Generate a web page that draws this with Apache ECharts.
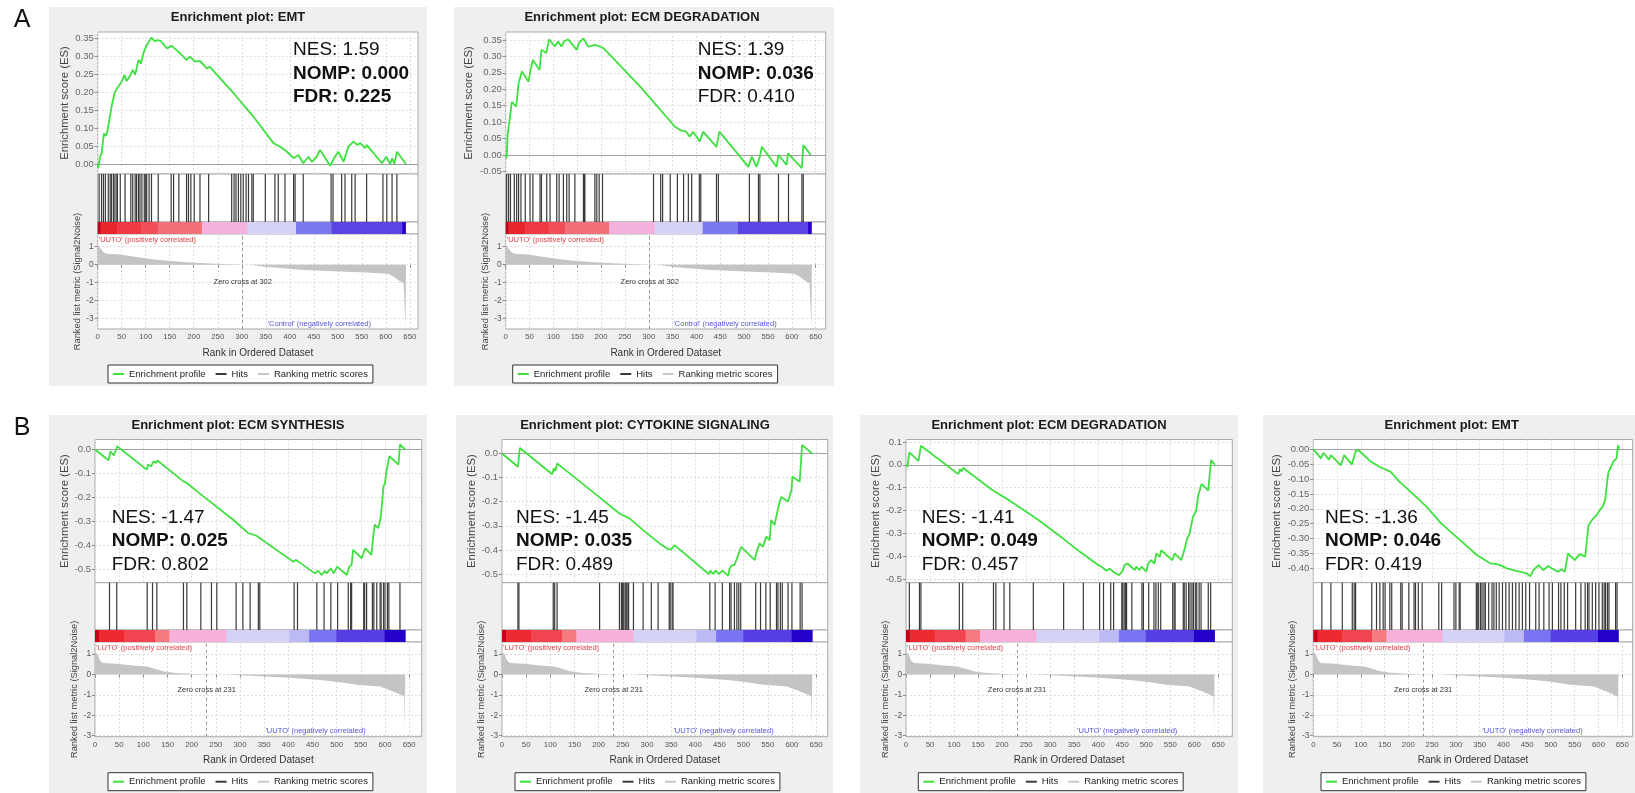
<!DOCTYPE html>
<html>
<head>
<meta charset="utf-8">
<script src="https://cdn.jsdelivr.net/npm/echarts@6/dist/echarts.min.js"></script>
<style>
  html, body { margin: 0; padding: 0; background: #fff; }
  #chart { width: 1635px; height: 793px; }
</style>
</head>
<body>
<div id="chart"></div>
<script>
const FONT = '"Liberation Sans", Arial, Helvetica, sans-serif';

// ---- tick labels ----
const rankTicks = [0, 50, 100, 150, 200, 250, 300, 350, 400, 450, 500, 550, 600, 650];
const metricTicks = [1, 0, -1, -2, -3];
const esTicksA1 = [0, 0.05, 0.1, 0.15, 0.2, 0.25, 0.3, 0.35];
const esTicksA2 = [-0.05, 0, 0.05, 0.1, 0.15, 0.2, 0.25, 0.3, 0.35];
const esTicksB = [0, -0.1, -0.2, -0.3, -0.4, -0.5];
const esTicksB3 = [0.1, 0, -0.1, -0.2, -0.3, -0.4, -0.5];
const esTicksB4 = [0, -0.05, -0.1, -0.15, -0.2, -0.25, -0.3, -0.35, -0.4];

// ---- titles and statistics ----
const titles = [
  "Enrichment plot: EMT",
  "Enrichment plot: ECM DEGRADATION",
  "Enrichment plot: ECM SYNTHESIS",
  "Enrichment plot: CYTOKINE SIGNALING",
  "Enrichment plot: ECM DEGRADATION",
  "Enrichment plot: EMT"
];
const nesValues = ["1.59", "1.39", "-1.47", "-1.45", "-1.41", "-1.36"];
const nompValues = ["0.000", "0.036", "0.025", "0.035", "0.049", "0.046"];
const fdrValues = ["0.225", "0.410", "0.802", "0.489", "0.457", "0.419"];
const zeroCrossA = 302;
const zeroCrossB = 231;

// ---- running enrichment scores [rank, ES] ----
const esEmtA = [[0,0],[1,-0.012],[5,0.02],[8,0.03],[13,0.085],[17,0.078],[20,0.09],[26,0.136],[29,0.16],[35,0.197],[40,0.21],[44,0.217],[50,0.23],[56,0.248],[60,0.23],[67,0.245],[73,0.262],[78,0.248],[85,0.29],[90,0.28],[95,0.308],[102,0.331],[112,0.352],[119,0.341],[124,0.345],[131,0.343],[144,0.322],[154,0.329],[168,0.313],[185,0.29],[192,0.299],[203,0.285],[213,0.287],[227,0.266],[233,0.271],[283,0.197],[324,0.132],[366,0.058],[380,0.048],[394,0.034],[408,0.016],[418,0.025],[428,0.002],[439,0.02],[446,0.006],[456,0.02],[463,0.039],[484,-0.005],[494,0.02],[501,0.034],[512,0.006],[522,0.048],[533,0.062],[540,0.053],[547,0.058],[557,0.044],[560,0.053],[592,0.002],[601,0.02],[609,0],[613,0.016],[618,0],[623,0.034],[642,0]];
const esEcmDegA = [[0,0],[2,-0.01],[4,0.061],[8,0.056],[13,0.162],[22,0.147],[27,0.218],[30,0.223],[34,0.254],[48,0.223],[52,0.259],[57,0.289],[71,0.259],[75,0.32],[85,0.31],[91,0.352],[103,0.33],[110,0.345],[117,0.33],[122,0.345],[131,0.352],[149,0.32],[154,0.342],[163,0.355],[173,0.33],[180,0.332],[187,0.335],[198,0.33],[205,0.325],[282,0.208],[355,0.086],[366,0.076],[378,0.071],[386,0.056],[393,0.071],[407,0.041],[414,0.071],[442,0.025],[448,0.071],[509,-0.036],[516,-0.005],[526,-0.036],[533,-0.005],[537,0.025],[568,-0.036],[572,0],[589,-0.03],[592,0.005],[621,-0.04],[624,0.03],[640,0]];
const esEcmSynB = [[0,0],[28,-0.045],[32,-0.007],[39,-0.025],[46,0.014],[107,-0.084],[110,-0.063],[116,-0.07],[121,-0.049],[126,-0.056],[129,-0.046],[183,-0.133],[190,-0.14],[217,-0.184],[286,-0.293],[317,-0.349],[334,-0.36],[410,-0.468],[416,-0.461],[421,-0.468],[455,-0.517],[462,-0.506],[469,-0.524],[476,-0.506],[479,-0.517],[488,-0.496],[494,-0.517],[501,-0.489],[521,-0.524],[526,-0.489],[531,-0.482],[534,-0.419],[552,-0.454],[559,-0.412],[572,-0.44],[576,-0.356],[579,-0.314],[586,-0.328],[591,-0.286],[593,-0.244],[597,-0.154],[600,-0.14],[603,-0.091],[609,-0.028],[628,-0.063],[631,0.021],[642,0]];
const esCytoB = [[0,0],[33,-0.055],[37,0.023],[104,-0.086],[107,-0.062],[111,-0.072],[114,-0.041],[202,-0.182],[243,-0.249],[264,-0.269],[292,-0.318],[326,-0.373],[345,-0.398],[350,-0.398],[357,-0.38],[428,-0.5],[431,-0.486],[437,-0.5],[442,-0.486],[449,-0.5],[456,-0.486],[468,-0.508],[471,-0.477],[476,-0.463],[481,-0.463],[485,-0.442],[488,-0.435],[495,-0.387],[523,-0.442],[526,-0.414],[530,-0.407],[533,-0.373],[540,-0.387],[547,-0.345],[554,-0.359],[557,-0.276],[564,-0.297],[569,-0.249],[573,-0.214],[578,-0.18],[592,-0.2],[599,-0.152],[601,-0.097],[616,-0.117],[621,0.035],[642,0]];
const esEcmDegB = [[0,0],[3,-0.009],[7,0.054],[26,0.017],[31,0.083],[109,-0.041],[112,-0.019],[116,-0.029],[119,-0.014],[181,-0.113],[216,-0.157],[272,-0.236],[327,-0.323],[362,-0.381],[400,-0.439],[407,-0.446],[417,-0.464],[424,-0.454],[431,-0.468],[443,-0.483],[450,-0.468],[455,-0.439],[461,-0.432],[476,-0.461],[479,-0.446],[486,-0.461],[490,-0.446],[500,-0.468],[504,-0.432],[510,-0.417],[517,-0.432],[521,-0.388],[528,-0.403],[531,-0.374],[554,-0.417],[559,-0.388],[573,-0.417],[580,-0.367],[585,-0.323],[590,-0.301],[594,-0.294],[597,-0.229],[604,-0.2],[608,-0.135],[615,-0.084],[629,-0.113],[632,-0.041],[635,0.02],[643,0]];
const esEmtB = [[0,0],[16,-0.031],[21,-0.012],[33,-0.035],[37,-0.02],[58,-0.054],[65,-0.02],[81,-0.051],[90,-0.003],[97,-0.006],[121,-0.042],[128,-0.048],[139,-0.059],[163,-0.076],[181,-0.109],[209,-0.149],[238,-0.193],[269,-0.249],[301,-0.294],[344,-0.355],[372,-0.383],[383,-0.385],[393,-0.389],[407,-0.4],[421,-0.406],[449,-0.417],[457,-0.426],[463,-0.406],[474,-0.389],[484,-0.406],[494,-0.392],[505,-0.403],[515,-0.411],[522,-0.403],[529,-0.411],[536,-0.35],[550,-0.372],[561,-0.352],[572,-0.361],[579,-0.255],[589,-0.232],[596,-0.221],[603,-0.204],[609,-0.193],[614,-0.171],[617,-0.126],[621,-0.076],[628,-0.054],[631,-0.042],[638,-0.031],[641,0.013],[644,0.002]];

// ---- gene set hit ranks ----
const hitsEmtA = [3,8,12,16,22,26,29,33,36,40,41,47,57,69,73,78,81,85,88,92,97,100,102,107,112,126,153,158,169,185,189,194,201,213,231,279,284,288,293,298,303,309,314,321,324,349,369,376,390,408,411,428,486,490,508,515,529,536,560,594,602,613,623];
const hitsEcmDegA = [2,6,10,18,23,27,32,41,51,57,72,75,86,93,107,112,121,128,133,145,163,165,166,187,191,196,203,310,325,329,345,360,373,383,390,406,409,442,446,511,530,533,572,593,621,624];
const hitsEcmSynB = [30,45,108,119,128,183,190,219,241,252,292,306,321,338,341,412,419,459,474,488,502,524,529,531,556,558,562,574,577,583,590,592,597,600,605,608,631];
const hitsCytoB = [33,35,106,109,114,202,243,247,249,250,252,255,257,259,262,272,292,309,323,346,348,352,354,430,441,456,471,474,481,486,490,494,525,535,546,555,568,571,576,580,592,600,617,621];
const hitsEcmDegB = [7,28,31,111,118,182,187,204,216,265,328,369,403,411,426,432,449,451,454,457,459,470,491,494,505,516,520,525,530,555,558,560,577,579,583,588,591,595,598,602,605,610,614,629,634];
const hitsEmtB = [18,37,61,82,86,89,123,133,140,147,151,161,165,184,187,201,212,215,221,229,264,270,296,300,307,309,343,345,348,352,355,359,362,369,376,380,385,391,398,405,412,419,426,433,440,447,455,468,475,485,496,503,516,521,528,535,552,563,572,577,580,587,594,601,608,612,615,619,622,636,639];

// ---- ranked list metric [rank, value] ----
const metricA = [[0,1.11],[4,1.02],[12,0.69],[19,0.61],[47,0.56],[74,0.46],[109,0.31],[144,0.22],[178,0.15],[213,0.09],[248,0.06],[280,0.02],[302,0],[316,0],[352,-0.13],[387,-0.2],[421,-0.28],[491,-0.37],[560,-0.43],[605,-0.5],[616,-0.65],[630,-0.93],[637,-1.02],[639,-1.06],[640,-2.8],[641,-3.37],[642,-3.37]];
const metricB = [[0,1.09],[5,1.01],[10,0.69],[16,0.56],[45,0.52],[79,0.44],[107,0.39],[124,0.28],[141,0.16],[162,0.08],[197,0.03],[231,0],[270,0],[276,-0.02],[334,-0.08],[403,-0.16],[472,-0.29],[507,-0.38],[541,-0.51],[590,-0.59],[610,-0.78],[628,-0.95],[640,-1.08],[641,-2.83],[642,-2.83]];

// ---- colour bar rank boundaries ----
const colorBarA = [0, 6, 40, 90, 125, 217, 312, 413, 487, 634, 641];
const colorBarB = [0, 9, 60, 124, 154, 272, 402, 443, 499, 599, 642];

// styles
const barColorsA = ["#c0001a", "#e8242c", "#ee3a44", "#f04e58", "#f27078", "#f5b2de", "#d4d2f6", "#7b78f0", "#5a44e4", "#2a00c0"];
const barColorsB = ["#c8001a", "#ec2a30", "#f04450", "#f47a80", "#f6b0da", "#d4d2f6", "#bcbaf4", "#7a74f2", "#5440e2", "#2400c8"];

const layoutA = { esTop: 32, esBot: 174, hitBot: 222, barBot: 234, rankBot: 329, rankMin: -3.57, rankMax: 1.705, titleY: 17, statY: 50, legTop: 365, zcY: -0.96, boxY: 7, boxH: 379 };
const layoutB = { esTop: 439.5, esBot: 582.7, hitBot: 630, barBot: 642, rankBot: 736.7, rankMin: -3.05, rankMax: 1.588, titleY: 425, statY: 517.3, legTop: 772.7, zcY: -0.75, boxY: 415, boxH: 380 };

const panels = [
  Object.assign({}, layoutA, { es: esEmtA, hits: hitsEmtA, metric: metricA, bar: colorBarA, colors: barColorsA, zc: zeroCrossA, bold: [false, true, true], pos: "'UUTO' (positively correlated)", neg: "'Control' (negatively correlated)", esTicks: esTicksA1, dec: 2,
    boxX: 49, boxW: 378, left: 97.7, right: 418, xMax: 667, esMin: -0.028, esMax: 0.3675, esGap: 27, titleX: 238, statX: 293, legLeft: 108, negOff: 47 }),
  Object.assign({}, layoutA, { es: esEcmDegA, hits: hitsEcmDegA, metric: metricA, bar: colorBarA, colors: barColorsA, zc: zeroCrossA, bold: [false, true, false], pos: "'UUTO' (positively correlated)", neg: "'Control' (negatively correlated)", esTicks: esTicksA2, dec: 2,
    boxX: 454, boxW: 380, left: 505.7, right: 825.7, xMax: 671, esMin: -0.0578, esMax: 0.3743, esGap: 31, titleX: 642, statX: 697.7, legLeft: 512.7, negOff: 49 }),
  Object.assign({}, layoutB, { es: esEcmSynB, hits: hitsEcmSynB, metric: metricB, bar: colorBarB, colors: barColorsB, zc: zeroCrossB, bold: [false, true, false], pos: "'LUTO' (positively correlated)", neg: "'UUTO' (negatively correlated)", esTicks: esTicksB, dec: 1,
    boxX: 49, boxW: 378, left: 95, right: 421.7, xMax: 676, esMin: -0.556, esMax: 0.0419, esGap: 21, titleX: 238, statX: 111.7, legLeft: 108, negOff: 56 }),
  Object.assign({}, layoutB, { es: esCytoB, hits: hitsCytoB, metric: metricB, bar: colorBarB, colors: barColorsB, zc: zeroCrossB, bold: [false, true, false], pos: "'LUTO' (positively correlated)", neg: "'UUTO' (negatively correlated)", esTicks: esTicksB, dec: 1,
    boxX: 456, boxW: 377, left: 502, right: 827.7, xMax: 674, esMin: -0.536, esMax: 0.058, esGap: 25, titleX: 645, statX: 516, legLeft: 515, negOff: 54 }),
  Object.assign({}, layoutB, { es: esEcmDegB, hits: hitsEcmDegB, metric: metricB, bar: colorBarB, colors: barColorsB, zc: zeroCrossB, bold: [false, true, false], pos: "'LUTO' (positively correlated)", neg: "'UUTO' (negatively correlated)", esTicks: esTicksB3, dec: 1,
    boxX: 860, boxW: 378, left: 906, right: 1232.3, xMax: 679, esMin: -0.516, esMax: 0.1105, esGap: 25, titleX: 1049, statX: 921.7, legLeft: 918.3, negOff: 55 }),
  Object.assign({}, layoutB, { es: esEmtB, hits: hitsEmtB, metric: metricB, bar: colorBarB, colors: barColorsB, zc: zeroCrossB, bold: [false, true, false], pos: "'LUTO' (positively correlated)", neg: "'UUTO' (negatively correlated)", esTicks: esTicksB4, dec: 2,
    boxX: 1263, boxW: 380, left: 1313.3, right: 1632.7, xMax: 672, esMin: -0.448, esMax: 0.0325, esGap: 31, titleX: 1451.7, statX: 1325, legLeft: 1321, negOff: 50 })
];

const option = {
  animation: false,
  backgroundColor: "#ffffff",
  textStyle: { fontFamily: FONT },
  grid: [], xAxis: [], yAxis: [], series: [], legend: [], graphic: []
};

const gridBase = { show: true, backgroundColor: "#ffffff", borderColor: "#a9a9a9", borderWidth: 1, containLabel: false, outerBoundsMode: "none" };
const dashed = { show: true, lineStyle: { color: "#dddddd", type: [2, 2], width: 1 } };
const hiddenAxis = { axisLabel: { show: false }, axisTick: { show: false }, axisLine: { show: false }, splitLine: { show: false } };

function colorBarItem(colors) {
  return function (params, api) {
    const a = api.coord([api.value(0), 1]);
    const b = api.coord([api.value(1), 0]);
    return {
      type: "rect",
      shape: { x: a[0], y: a[1], width: b[0] - a[0] + 0.4, height: b[1] - a[1] },
      style: { fill: colors[params.dataIndex] }
    };
  };
}

function text(x, y, str, size, opts) {
  return {
    type: "text", x: x, y: y, z: 50,
    style: Object.assign({ text: str, fontSize: size, fontFamily: FONT, fill: "#111", align: "left", verticalAlign: "middle" }, opts || {})
  };
}

option.graphic.push(text(22, 20, "A", 25, { align: "center" }));
option.graphic.push(text(22, 428, "B", 25, { align: "center" }));

panels.forEach(function (p, i) {
  const g = i * 4;
  const w = p.right - p.left;
  const rows = [[p.esTop, p.esBot], [p.esBot, p.hitBot], [p.hitBot, p.barBot], [p.barBot, p.rankBot]];
  rows.forEach(function (r) {
    option.grid.push(Object.assign({}, gridBase, { left: p.left, top: r[0], width: w, height: r[1] - r[0] }));
  });

  // ES plot axes
  option.xAxis.push({ type: "value", gridIndex: g, min: 0, max: p.xMax,
    axisLabel: { show: false }, axisLine: { show: false },
    axisTick: { show: false, customValues: rankTicks }, splitLine: dashed });
  option.yAxis.push({ type: "value", gridIndex: g, min: p.esMin, max: p.esMax,
    name: "Enrichment score (ES)", nameLocation: "middle", nameGap: p.esGap,
    nameTextStyle: { fontSize: 11.3, color: "#444", fontFamily: FONT },
    axisLine: { show: false },
    axisTick: { show: true, length: 3, customValues: p.esTicks, lineStyle: { color: "#888" } },
    axisLabel: { customValues: p.esTicks, fontSize: 9.5, color: "#666", margin: 4, fontFamily: FONT,
      formatter: function (v) { return Number(v).toFixed(p.dec); } },
    splitLine: dashed });

  // hits
  option.xAxis.push(Object.assign({ type: "value", gridIndex: g + 1, min: 0, max: p.xMax }, hiddenAxis));
  option.yAxis.push(Object.assign({ type: "value", gridIndex: g + 1, min: 0, max: 1 }, hiddenAxis));
  // colour bar
  option.xAxis.push(Object.assign({ type: "value", gridIndex: g + 2, min: 0, max: p.xMax }, hiddenAxis));
  option.yAxis.push(Object.assign({ type: "value", gridIndex: g + 2, min: 0, max: 1 }, hiddenAxis));

  // ranked list metric
  option.xAxis.push({ type: "value", gridIndex: g + 3, min: 0, max: p.xMax,
    name: "Rank in Ordered Dataset", nameLocation: "middle", nameGap: 19,
    nameTextStyle: { fontSize: 10, color: "#333", fontFamily: FONT },
    axisLine: { show: false },
    axisTick: { show: true, length: 3, customValues: rankTicks, lineStyle: { color: "#888" } },
    axisLabel: { customValues: rankTicks, fontSize: 7.8, color: "#555", margin: 4, fontFamily: FONT },
    splitLine: dashed });
  option.yAxis.push({ type: "value", gridIndex: g + 3, min: p.rankMin, max: p.rankMax,
    name: "Ranked list metric (Signal2Noise)", nameLocation: "middle", nameGap: 16,
    nameTextStyle: { fontSize: 9.3, color: "#444", fontFamily: FONT },
    axisLine: { show: false },
    axisTick: { show: true, length: 3, customValues: metricTicks, lineStyle: { color: "#888" } },
    axisLabel: { customValues: metricTicks, fontSize: 8.3, color: "#555", margin: 4, fontFamily: FONT },
    splitLine: dashed });

  option.series.push({
    type: "line", name: "Enrichment profile", xAxisIndex: g, yAxisIndex: g,
    data: p.es, symbol: "none", z: 5,
    lineStyle: { color: "#3fe03f", width: 1.8 }, itemStyle: { color: "#3fe03f" },
    markLine: { silent: true, symbol: "none", label: { show: false },
      lineStyle: { color: "#a0a0a0", type: "solid", width: 1 }, data: [{ yAxis: 0 }] }
  });
  option.series.push({
    type: "bar", name: "Hits", xAxisIndex: g + 1, yAxisIndex: g + 1,
    data: p.hits.map(function (r) { return [r, 1]; }),
    barWidth: 1.2, itemStyle: { color: "#3a3a3a" }
  });
  option.series.push({
    type: "custom", xAxisIndex: g + 2, yAxisIndex: g + 2,
    data: p.bar.slice(1).map(function (end, k) { return [p.bar[k], end]; }),
    encode: { x: [0, 1] },
    renderItem: colorBarItem(p.colors)
  });
  option.series.push({
    type: "line", name: "Ranking metric scores", xAxisIndex: g + 3, yAxisIndex: g + 3,
    data: p.metric, symbol: "none",
    lineStyle: { width: 0, color: "#c4c4c4" }, itemStyle: { color: "#c8c8c8" },
    areaStyle: { color: "#c4c4c4", opacity: 1 },
    markLine: { silent: true, symbol: "none", label: { show: false },
      lineStyle: { color: "#9a9a9a", type: [3, 3], width: 1 }, data: [{ xAxis: p.zc }] },
    markPoint: { silent: true, symbol: "circle", symbolSize: 0,
      data: [{ coord: [p.zc, p.zcY] }],
      label: { show: true, position: "inside", formatter: "Zero cross at " + p.zc, fontSize: 7.5, color: "#333", fontFamily: FONT } }
  });

  option.legend.push({
    left: p.legLeft, top: p.legTop, orient: "horizontal",
    icon: "rect", itemWidth: 11, itemHeight: 2, itemGap: 10, padding: [4, 5],
    borderColor: "#333", borderWidth: 1, backgroundColor: "#ffffff", selectedMode: false,
    textStyle: { fontSize: 9.5, color: "#222", fontFamily: FONT },
    data: [
      { name: "Enrichment profile", itemStyle: { color: "#3fe03f" } },
      { name: "Hits", itemStyle: { color: "#3a3a3a" } },
      { name: "Ranking metric scores", itemStyle: { color: "#c8c8c8" } }
    ]
  });

  option.graphic.push({ type: "rect", z: -100, silent: true,
    shape: { x: p.boxX, y: p.boxY, width: p.boxW, height: p.boxH }, style: { fill: "#efefef" } });
  option.graphic.push(text(p.titleX, p.titleY, titles[i], 13, { align: "center", fontWeight: "bold", fill: "#1a1a1a" }));
  const stats = ["NES: " + nesValues[i], "NOMP: " + nompValues[i], "FDR: " + fdrValues[i]];
  stats.forEach(function (s, k) {
    option.graphic.push(text(p.statX, p.statY + k * 23.5, s, 19, { fontWeight: p.bold[k] ? "bold" : "normal", fill: "#111" }));
  });
  option.graphic.push(text(p.left + 1, p.barBot + 6, p.pos, 7.5, { fill: "#e0404a" }));
  option.graphic.push(text(p.right - p.negOff, p.rankBot - 5.5, p.neg, 7.5, { align: "right", fill: "#5555dd" }));
});

const chart = echarts.init(document.getElementById("chart"), null, { renderer: "canvas", width: 1635, height: 793 });
chart.setOption(option);
</script>
</body>
</html>
